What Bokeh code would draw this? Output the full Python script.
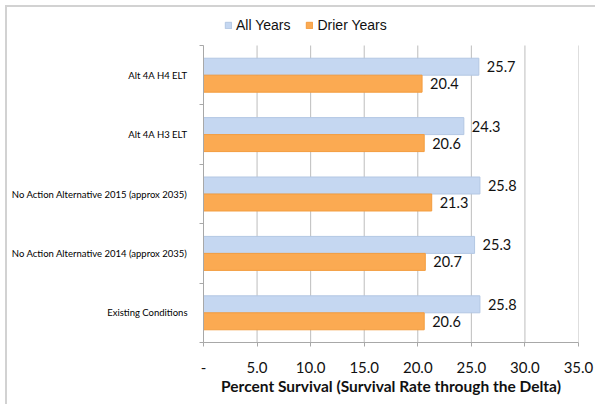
import numpy as np
from bokeh.plotting import figure
from bokeh.models import (ColumnDataSource, Range1d, FixedTicker, NumeralTickFormatter,
                          Legend, LegendItem, InlineStyleSheet)
from bokeh.core.properties import value
from bokeh.embed import file_html
from bokeh.resources import INLINE

# ---- data (top to bottom as shown) ----
categories = [
    "Alt 4A H4 ELT",
    "Alt 4A H3 ELT",
    "No Action Alternative 2015 (approx 2035)",
    "No Action Alternative 2014 (approx 2035)",
    "Existing Conditions",
]
all_years = [25.7, 24.3, 25.8, 25.3, 25.8]
drier_years = [20.4, 20.6, 21.3, 20.7, 20.6]
x_ticks = [0, 5, 10, 15, 20, 25, 30, 35]
series_names = ["All Years", "Drier Years"]

n = len(categories)
ypos = n - 0.5 - np.arange(n)  # category centers, first at top
off = 0.143
bh = 0.286

# frame spans from the top of the legend area down to the axis;
# the category area occupies the lower part of it
frame_top_px, plot_top_px, axis_px = 5, 45, 342
y_max = n * (axis_px - frame_top_px) / (axis_px - plot_top_px)

src = ColumnDataSource(dict(
    y_all=ypos + off, y_dry=ypos - off,
    all_years=all_years, drier_years=drier_years,
    lab_all=[f"{v:.1f}" for v in all_years],
    lab_dry=[f"{v:.1f}" for v in drier_years],
))

p = figure(width=595, height=404, output_backend="svg", toolbar_location=None,
           x_range=Range1d(0, 35), y_range=Range1d(0, y_max),
           min_border_left=203, min_border_right=17, min_border_top=frame_top_px,
           min_border_bottom=404 - axis_px)
p.outline_line_color = None
p.background_fill_color = "white"
p.border_fill_color = "white"

# vertical gridlines limited to the category area
p.segment(x0=x_ticks, x1=x_ticks, y0=[0] * len(x_ticks), y1=[n] * len(x_ticks),
          line_color="#bdbdbd", line_width=1)

r1 = p.hbar(y="y_all", right="all_years", left=0, height=bh, source=src,
            fill_color="#c5d7f1", line_color="#b3c7e3", line_width=1)
r2 = p.hbar(y="y_dry", right="drier_years", left=0, height=bh, source=src,
            fill_color="#fbaa52", line_color="#f39c3e", line_width=1)

FONT = "Lato"
p.text(x="all_years", y="y_all", text="lab_all", source=src, x_offset=8,
       text_align="left", text_baseline="middle", text_font_size="14.5px",
       text_color="#111111", text_font=value(FONT))
p.text(x="drier_years", y="y_dry", text="lab_dry", source=src, x_offset=8,
       text_align="left", text_baseline="middle", text_font_size="14.5px",
       text_color="#111111", text_font=value(FONT))

# x axis
xa = p.xaxis[0]
xa.ticker = FixedTicker(ticks=x_ticks)
xa.formatter = NumeralTickFormatter(format="0.0")
xa.major_label_overrides = {0: "-"}
xa.major_tick_in = 0
xa.major_tick_out = 4
xa.minor_tick_line_color = None
xa.axis_line_color = "#a8a8a8"
xa.major_tick_line_color = "#a8a8a8"
xa.major_label_text_font = FONT
xa.major_label_text_font_size = "15px"
xa.major_label_text_color = "#111111"
xa.major_label_standoff = 15
xa.axis_label = "Percent Survival (Survival Rate through the Delta)"
xa.axis_label_text_font = FONT
xa.axis_label_text_font_style = "bold"
xa.axis_label_text_font_size = "15.5px"
xa.axis_label_text_color = "#111111"
xa.axis_label_standoff = 1

# y axis
ya = p.yaxis[0]
ya.bounds = (0, n)
ya.ticker = FixedTicker(ticks=list(ypos), minor_ticks=list(range(n + 1)))
ya.major_label_overrides = {float(y): c for y, c in zip(ypos, categories)}
ya.major_tick_line_color = None
ya.minor_tick_line_color = "#a8a8a8"
ya.minor_tick_in = 0
ya.minor_tick_out = 4
ya.axis_line_color = "#a8a8a8"
ya.major_label_text_font = FONT
ya.major_label_text_font_size = "9.5px"
ya.major_label_text_color = "#000000"
ya.major_label_standoff = 10

p.ygrid.grid_line_color = None
p.xgrid.grid_line_color = None

legend = Legend(items=[LegendItem(label=series_names[0], renderers=[r1]),
                       LegendItem(label=series_names[1], renderers=[r2])],
                orientation="horizontal", location=(21, 309),
                padding=0, margin=0, spacing=15, label_standoff=4,
                glyph_width=8, glyph_height=8,
                label_text_font="Liberation Sans", label_text_font_size="14px",
                label_text_color="#111111",
                border_line_color=None, background_fill_alpha=0)
p.add_layout(legend)

# chart outer border (top-left visible), drawn as an overlay
p.stylesheets = [InlineStyleSheet(css=""":host::after {
  content: ''; position: absolute; left: 5px; top: 5px; right: -20px; bottom: -20px;
  border-top: 2px solid #d2d2d2; border-left: 2px solid #d2d2d2;
  pointer-events: none; }""")]

open("out.html", "w").write(file_html(p, INLINE))
